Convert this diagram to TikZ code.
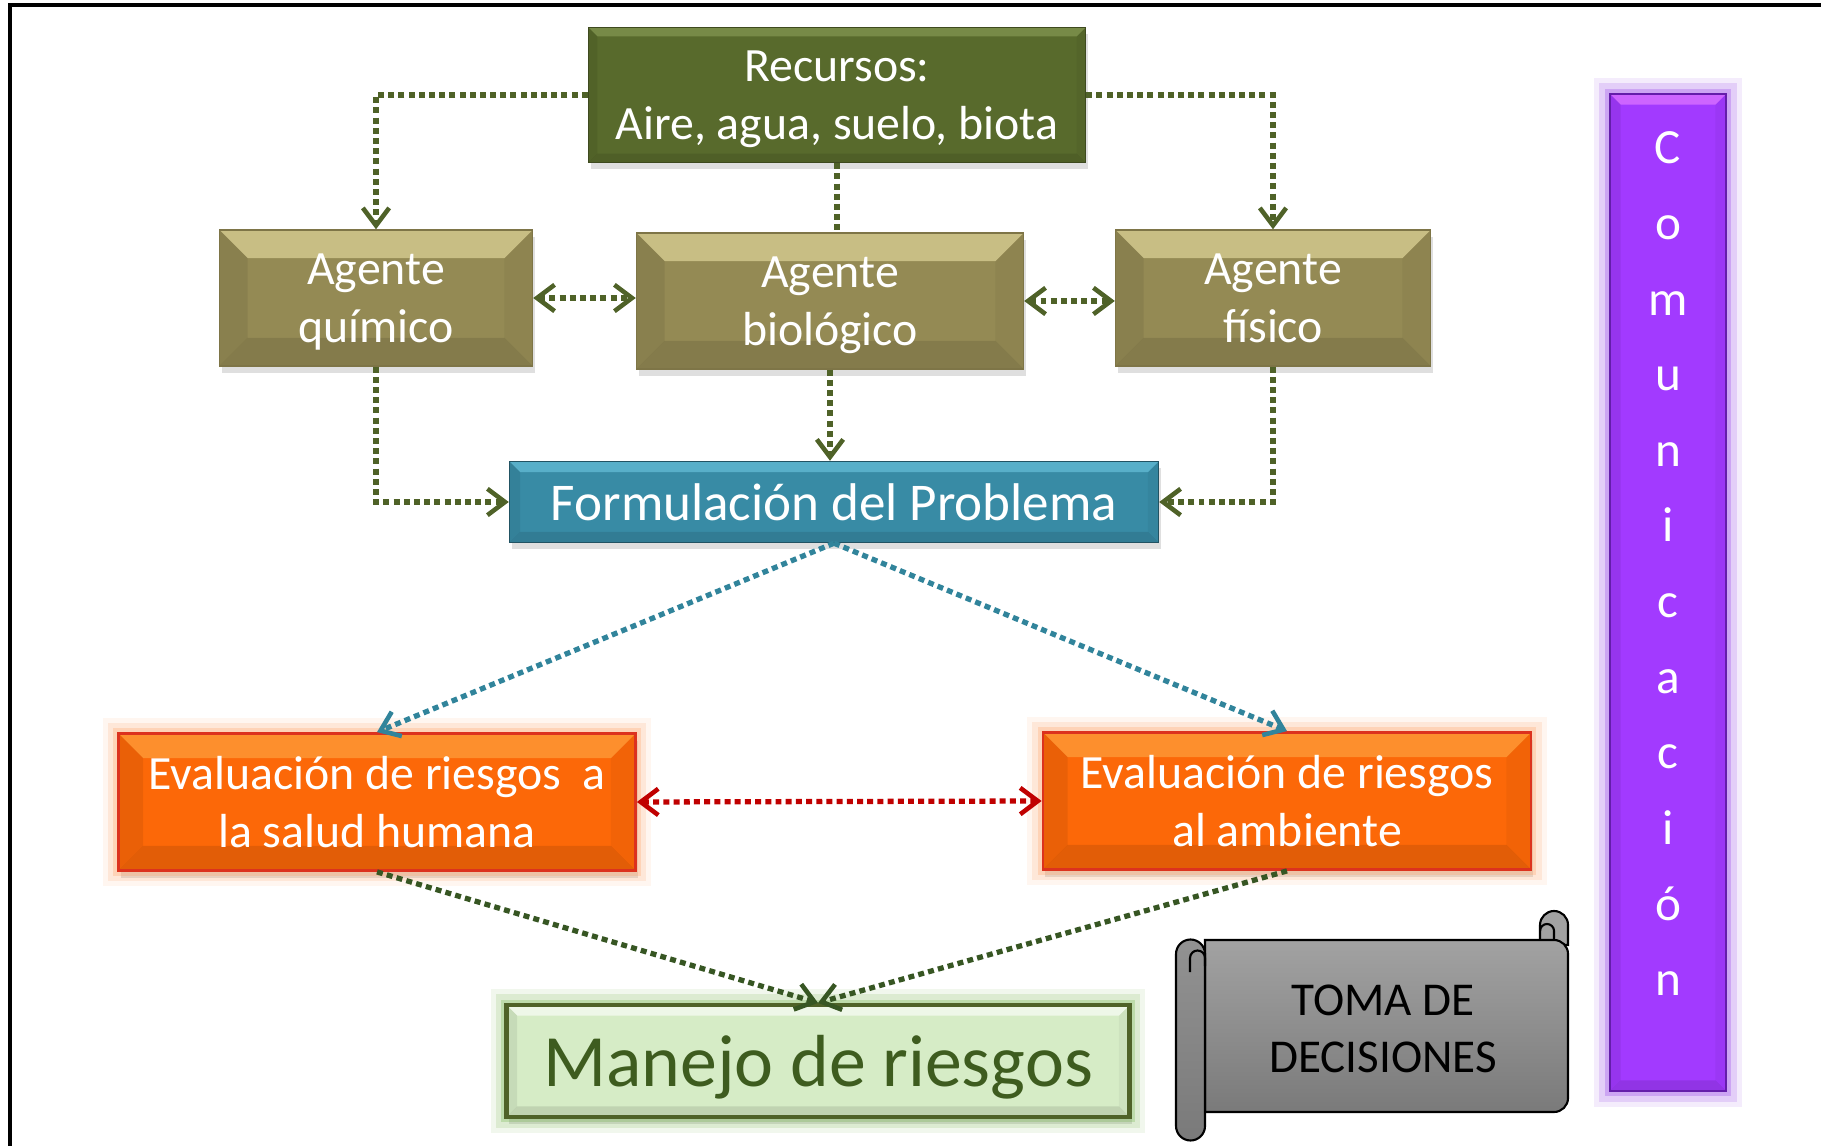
\documentclass[tikz,border=0pt]{standalone}
\usepackage{fontspec}
\setmainfont{Carlito}
\usepackage{tikz}
\usetikzlibrary{arrows.meta,shadows}

\definecolor{recverde}{RGB}{88,106,44}
\definecolor{recclaro}{RGB}{140,160,90}
\definecolor{agcaqui}{RGB}{148,138,84}
\definecolor{agclaro}{RGB}{236,225,164}
\definecolor{formazul}{RGB}{56,139,165}
\definecolor{formclaro}{RGB}{110,200,225}
\definecolor{evalnaranja}{RGB}{252,104,8}
\definecolor{evalclaro}{RGB}{255,170,70}
\definecolor{evalborde}{RGB}{220,50,30}
\definecolor{manfondo}{RGB}{214,236,198}
\definecolor{manborde}{RGB}{79,98,40}
\definecolor{manbrillo}{RGB}{120,180,80}
\definecolor{mantexto}{RGB}{62,92,31}
\definecolor{comvioleta}{RGB}{162,58,255}
\definecolor{comclaro}{RGB}{235,130,255}
\definecolor{combrillo}{RGB}{150,70,230}
\definecolor{comborde}{RGB}{100,30,170}
\definecolor{flechaverde}{RGB}{79,98,40}
\definecolor{flechaoscura}{RGB}{55,86,35}
\definecolor{flechaazul}{RGB}{49,132,155}
\definecolor{flecharoja}{RGB}{192,0,0}
\definecolor{rolloalto}{RGB}{162,162,162}
\definecolor{rollobajo}{RGB}{122,122,122}

\tikzset{
  bevel color/.store in=\bevelcolor, bevel color=white,
  bevel/.style={path picture={
    \coordinate (bnw) at (path picture bounding box.north west);
    \coordinate (bse) at (path picture bounding box.south east);
    \coordinate (bne) at (bnw -| bse);
    \coordinate (bsw) at (bse -| bnw);
    \fill[\bevelcolor,opacity=.6] (bnw) -- (bne) -- ([shift={(-#1,-#1)}]bne) -- ([shift={(#1,-#1)}]bnw) -- cycle;
    \fill[black,opacity=.07] (bnw) -- ([shift={(#1,-#1)}]bnw) -- ([shift={(#1,#1)}]bsw) -- (bsw) -- cycle;
    \fill[black,opacity=.04] (bne) -- ([shift={(-#1,-#1)}]bne) -- ([shift={(-#1,#1)}]bse) -- (bse) -- cycle;
    \fill[black,opacity=.10] (bsw) -- ([shift={(#1,#1)}]bsw) -- ([shift={(-#1,#1)}]bse) -- (bse) -- cycle;
  }},
  brillo/.style={
    preaction={draw=#1, line width=9pt, opacity=.10, rounded corners=4pt},
    preaction={draw=#1, line width=6pt, opacity=.18, rounded corners=3pt},
    preaction={draw=#1, line width=3pt, opacity=.30, rounded corners=1pt}},
  caja/.style={rectangle, inner sep=0pt, align=center, text=white,
    drop shadow={opacity=.25, shadow xshift=.2mm, shadow yshift=-.7mm}},
  recurso/.style={caja, fill=recverde, draw=recverde!70!black, bevel color=recclaro, bevel=2.5pt,
    minimum width=4.97cm, minimum height=1.35cm, text depth=0pt, font=\fontsize{13.6}{16.5}\selectfont},
  agente/.style={caja, fill=agcaqui, draw=agcaqui!85!black, bevel color=agclaro, bevel=8pt,
    minimum height=1.36cm, text depth=0pt, font=\fontsize{13.6}{16.5}\selectfont},
  formula/.style={caja, fill=formazul, draw=formazul!60!black, bevel color=formclaro, bevel=3pt,
    minimum width=6.49cm, minimum height=.81cm, font=\fontsize{15.1}{18}\selectfont},
  evaluacion/.style={caja, brillo=evalnaranja!60, fill=evalnaranja, draw=evalborde, line width=.8pt,
    bevel color=evalclaro, bevel=7pt,
    minimum height=1.37cm, font=\fontsize{13.6}{16.5}\selectfont},
  manejo/.style={caja, brillo=manbrillo, fill=manfondo, draw=manborde, line width=1.2pt,
    bevel=3pt, text=mantexto,
    minimum width=6.23cm, minimum height=1.12cm, text depth=0pt, font=\fontsize{21}{25}\selectfont},
  comunica/.style={rectangle, inner sep=0pt, brillo=combrillo, fill=comvioleta, draw=comborde,
    bevel color=comclaro, bevel=3pt,
    minimum width=1.16cm, minimum height=9.97cm},
  letra/.style={anchor=base, inner sep=0pt, text=white, font=\fontsize{14}{16}\selectfont},
  flecha/.style={draw=flechaverde, line width=1.5pt, dash pattern=on 1.7pt off 1.2pt,
    >={Straight Barb[length=5pt, width=7.5pt, line width=1.3pt]}},
  flechaaz/.style={flecha, draw=flechaazul},
  flecharo/.style={flecha, draw=flecharoja},
  flechaos/.style={flecha, draw=flechaoscura}
}

\begin{document}
\begin{tikzpicture}[x=0.1mm, y=-0.1mm]
\useasboundingbox (0,0) rectangle (1821,1146);

% marco
\draw[line width=1.4pt] (10,1146) -- (10,5) -- (1821,5);

% recursos y agentes
\node[recurso] (recursos) at (837,95) {Recursos:\\Aire, agua, suelo, biota};
\node[agente, minimum width=3.13cm] (quimico) at (376,298) {Agente\\químico};
\node[agente, minimum width=3.87cm] (biologico) at (830,301) {Agente\\biológico};
\node[agente, minimum width=3.15cm] (fisico) at (1273,298) {Agente\\físico};

\node[formula] (formulacion) at (834,502) {Formulación del Problema};

% evaluaciones
\node[evaluacion, minimum width=5.17cm] (salud) at (377,802) {Evaluación de riesgos\ \ a\\la salud humana};
\node[evaluacion, minimum width=4.88cm] (ambiente) at (1287,801) {Evaluación de riesgos\\al ambiente};

\node[manejo] (manejo) at (818,1061) {Manejo de riesgos};

% comunicacion
\node[comunica] (comunicacion) at (1668,592.5) {};
\foreach \l [count=\i] in {C,o,m,u,n,i,c,a,c,i,ó,n}
  \node[letra] (letra\i) at (1668,{164+75.6*(\i-1)}) {\l};

% toma de decisiones (pergamino)
\filldraw[fill=rolloalto, draw=black, line width=.6pt]
  (1540,945) -- (1540,925) arc[start angle=180, end angle=0, radius=1.4mm] -- (1568,945) -- cycle;
\draw[line width=.6pt] (1554,942) -- (1554,931) arc[start angle=0, end angle=180, radius=.7mm];
\filldraw[top color=rolloalto, bottom color=rollobajo, draw=black, line width=.6pt]
  (1205,940) -- (1554,940) arc[start angle=90, end angle=0, radius=1.4mm]
  -- (1568,1098) arc[start angle=0, end angle=-90, radius=1.4mm] -- (1205,1112) -- cycle;
\filldraw[top color=rolloalto!90!black, bottom color=rollobajo, draw=black, line width=.6pt]
  (1176,954) arc[start angle=180, end angle=0, radius=1.45mm]
  -- (1205,1126) arc[start angle=0, end angle=-180, radius=1.45mm] -- cycle;
\draw[line width=.6pt] (1190,972) -- (1190,958) arc[start angle=180, end angle=0, radius=.75mm] -- (1205,966);
\node[align=center, font=\fontsize{13.4}{16.2}\selectfont] (toma) at (1383,1029) {TOMA DE\\DECISIONES};

% conectores
\draw[flecha, ->] (recursos.west) -| (quimico.north);
\draw[flecha, ->] (recursos.east) -| (fisico.north);
\draw[flecha] (recursos.south) -- (recursos.south |- biologico.north);
\draw[flecha, <->] (quimico.east) -- (quimico.east -| biologico.west);
\draw[flecha, <->] (biologico.east) -- (biologico.east -| fisico.west);
\draw[flecha, ->] (biologico.south) -- (biologico.south |- formulacion.north);
\draw[flecha, ->] (quimico.south) |- (formulacion.west);
\draw[flecha, ->] (fisico.south) |- (formulacion.east);
\draw[flechaaz, ->] (formulacion.south) -- (salud.north);
\draw[flechaaz, ->] (formulacion.south) -- (ambiente.north);
\draw[flecharo, <->] (salud.east) -- (ambiente.west);
\draw[flechaos, ->] (salud.south) -- (manejo.north);
\draw[flechaos, ->] (ambiente.south) -- (manejo.north);
\end{tikzpicture}
\end{document}
